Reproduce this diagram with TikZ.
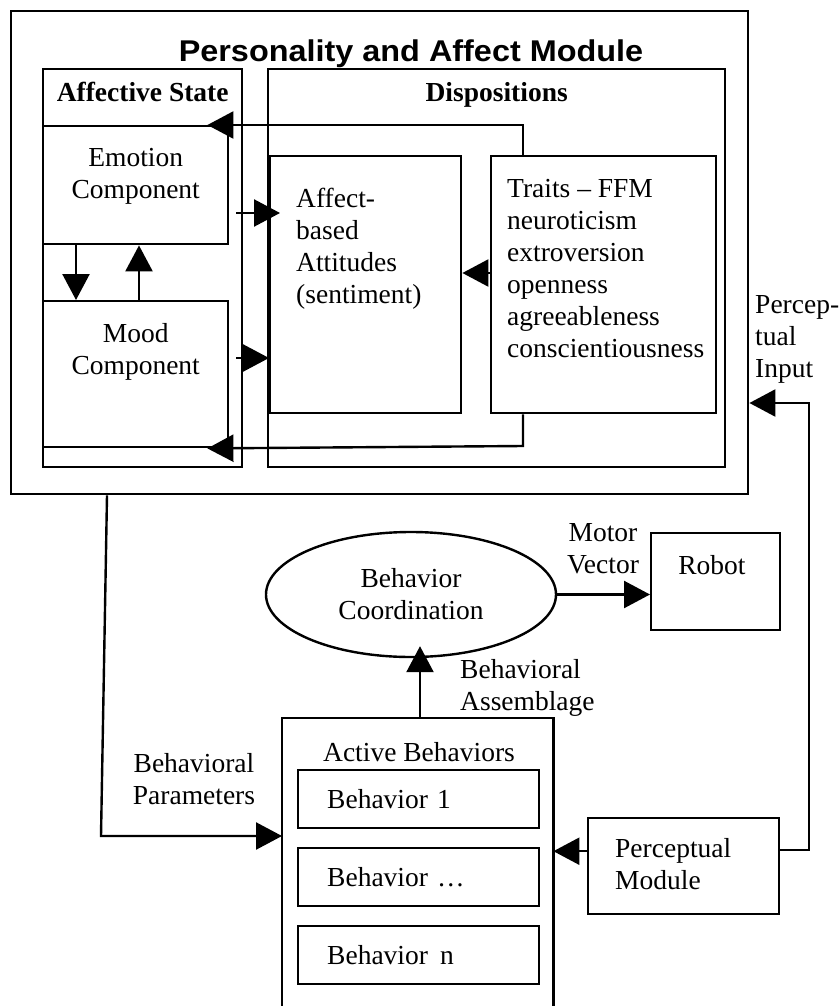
\documentclass[tikz,border=0pt]{standalone}
\usepackage{fontspec}
\setmainfont{Liberation Serif}
\newfontfamily\titlefont[FakeStretch=1.08]{Liberation Sans}
\usetikzlibrary{arrows.meta,shapes.geometric}
\tikzset{
	box/.style={draw,line width=2.4pt,rectangle,inner sep=0pt,anchor=north west},
	txt/.style={inner sep=0pt,font=\fontsize{27.5}{32}\selectfont},
	head/.style={inner sep=0pt,anchor=base,font=\fontsize{27.5}{32}\selectfont\bfseries},
	behbox/.style={box,minimum width=241pt,minimum height=58pt,text width=183pt,inner xsep=29pt,align=left,font=\fontsize{27.5}{32}\selectfont},
	arr/.style={line width=2.4pt,-{Triangle[length=26pt,width=27pt]}},
	ln/.style={line width=2.4pt}
}
\begin{document}
\begin{tikzpicture}[x=1pt,y=-1pt]
	\useasboundingbox (0,0) rectangle (839,1006);

	\node[box,minimum width=737pt,minimum height=483pt] (pam) at (10,10) {};
	\node[inner sep=0pt,anchor=base] (title) at (411,62) {\titlefont\bfseries\fontsize{30}{36}\selectfont Personality and Affect Module};

	\node[box,minimum width=199pt,minimum height=398pt] (affst) at (42,68) {};
	\node[head] (affsttxt) at ([yshift=-34pt]affst.north) {Affective State};
	\node[box,minimum width=457pt,minimum height=398pt] (disp) at (267,68) {};
	\node[head] (disptxt) at ([yshift=-34pt]disp.north) {Dispositions};

	\node[box,minimum width=185pt,minimum height=118pt] (emo) at (42,125) {};
	\node[txt,align=center] (emotxt) at ([yshift=9pt]emo.center) {Emotion\\Component};
	\node[box,minimum width=185pt,minimum height=146pt] (mood) at (42,300) {};
	\node[txt,align=center] (moodtxt) at ([yshift=22pt]mood.center) {Mood\\Component};

	\node[box,minimum width=191pt,minimum height=257pt] (att) at (269,155) {};
	\node[txt,align=left,anchor=west] (atttxt) at (296,249) {Affect-\\based\\Attitudes\\(sentiment)};
	\node[box,minimum width=225pt,minimum height=257pt] (traits) at (490,155) {};
	\node[txt,align=left,anchor=west] (traitstxt) at (507,269) {Traits – FFM\\neuroticism\\extroversion\\openness\\agreeableness\\conscientiousness};

	\node[txt,align=left,anchor=west] (pintxt) at (755,339) {Percep-\\tual\\Input};

	\node[draw,ellipse,line width=2.4pt,inner sep=0pt,minimum width=290pt,minimum height=125pt,txt,align=center] (coord) at (411,594.5) {Behavior\\Coordination};
	\node[box,minimum width=129pt,minimum height=97pt] (robot) at (650,532) {};
	\node[txt] (robottxt) at (712,565) {Robot};
	\node[txt,align=center] (mvtxt) at (603,549) {Motor\\Vector};
	\node[txt,align=left,anchor=west] (batxt) at (460,688) {Behavioral\\Assemblage};

	\node[inner sep=0pt,anchor=north west,minimum width=271pt,minimum height=288pt] (act) at (282,718) {};
	\draw[ln] (act.south west) |- (act.north east) -- (act.south east);
	\node[txt] (acttxt) at (419,752) {Active Behaviors};
	\node[behbox] (beh1) at (297,769) {Behavior 1};
	\node[behbox] (beh2) at (297,847) {Behavior …};
	\node[behbox] (beh3) at (297,925) {Behavior\hspace{12pt}n};

	\node[box,minimum width=191pt,minimum height=96pt] (perc) at (587,817) {};
	\node[txt,align=left,anchor=west] (perctxt) at (615,864) {Perceptual\\Module};
	\node[txt,align=center] (bptxt) at (194,779) {Behavioral\\Parameters};

	\coordinate (ttop) at (523,125);
	\coordinate (tbot) at (523,446);
	\draw[arr] (traits.north -| ttop) -- (ttop) -- ([xshift=-22pt]emo.north east);
	\draw[arr] (traits.south -| tbot) -- (tbot) -- ([xshift=-22pt]mood.south east);
	\draw[arr] ([xshift=34pt]emo.south west) -- ([xshift=34pt]mood.north west);
	\draw[arr] ([xshift=97pt]mood.north west) -- ([xshift=97pt]emo.south west);
	\draw[arr] ([xshift=7pt,yshift=-88pt]emo.north east) -- ([xshift=11pt,yshift=-58pt]att.north west);
	\draw[arr] ([xshift=7pt,yshift=-58pt]mood.north east) -- ([yshift=-203pt]att.north west);
	\draw[arr] ([yshift=-118pt]traits.north west) -- ([yshift=-118pt]att.north east);

	\draw[arr] (coord.east) -- (coord.east -| robot.west);
	\draw[arr] ([xshift=138pt]act.north west) -- ([xshift=9pt,yshift=12pt]coord.south);

	\coordinate (pm) at ([yshift=15pt]perc.west);
	\draw[arr] (pm) -- (pm -| act.east);
	\coordinate (pin) at (809,403);
	\draw[arr] ([yshift=16pt]perc.east) -| (pin) -- (pin -| pam.east);
	\coordinate (bptop) at (107,493);
	\coordinate (bpbot) at (101,836);
	\draw[arr] (pam.south -| bptop) -- (bpbot) -- (bpbot -| act.west);

\end{tikzpicture}
\end{document}
